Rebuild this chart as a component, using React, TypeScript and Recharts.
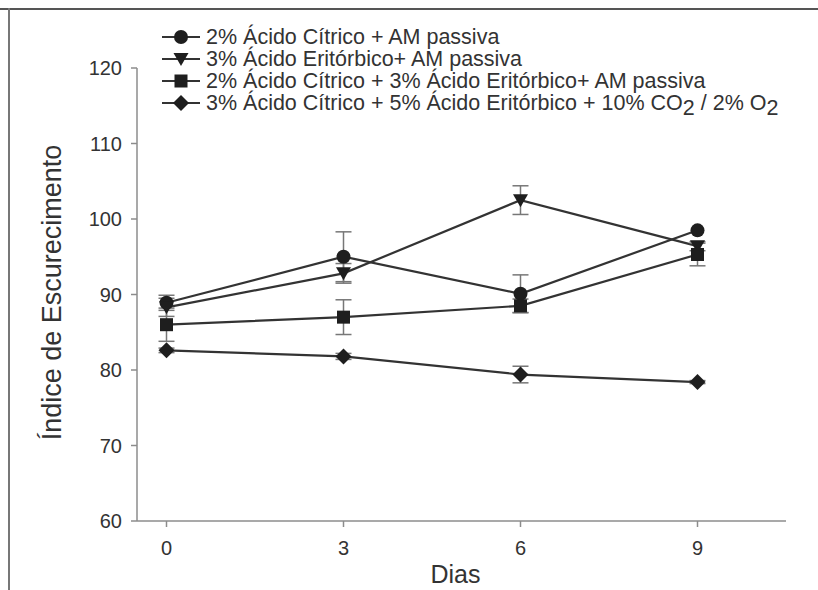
import React from "react";
import {
    LineChart,
    Line,
    XAxis,
    YAxis,
    ErrorBar,
    Label,
} from "recharts";

const days = [0, 3, 6, 9];
const citrico = [88.9, 95.0, 90.1, 98.5];
const citricoErr = [1.0, 3.3, 2.5, 0];
const eritorbico = [88.3, 92.8, 102.5, 96.4];
const eritorbicoErr = [1.2, 1.3, 1.9, 0.6];
const misto = [86.0, 87.0, 88.5, 95.3];
const mistoErr = [2.2, 2.3, 0.9, 1.5];
const atmosfera = [82.6, 81.8, 79.4, 78.4];
const atmosferaErr = [0.3, 0.4, 1.1, 0.2];
const yTicks = [60, 70, 80, 90, 100, 110, 120];

const data = days.map((d, i) => ({
    day: d,
    citrico: citrico[i],
    citricoErr: citricoErr[i],
    eritorbico: eritorbico[i],
    eritorbicoErr: eritorbicoErr[i],
    misto: misto[i],
    mistoErr: mistoErr[i],
    atmosfera: atmosfera[i],
    atmosferaErr: atmosferaErr[i],
}));

const FONT = "'Liberation Sans', Arial, sans-serif";
const LINE = "#333";
const AXIS = "#8c8c8c";

type Shape = "circle" | "triangle" | "square" | "diamond";

function Marker({ shape, cx, cy }: { shape: Shape; cx: number; cy: number }) {
    const fill = "#1e1e1e";
    if (shape === "circle") return <circle cx={cx} cy={cy} r={7} fill={fill} />;
    if (shape === "square")
        return <rect x={cx - 6.5} y={cy - 6.5} width={13} height={13} fill={fill} />;
    if (shape === "triangle")
        return (
            <path
                d={`M${cx - 7.5},${cy - 6} L${cx + 7.5},${cy - 6} L${cx},${cy + 7} Z`}
                fill={fill}
            />
        );
    return (
        <path
            d={`M${cx},${cy - 8} L${cx + 8},${cy} L${cx},${cy + 8} L${cx - 8},${cy} Z`}
            fill={fill}
        />
    );
}

const dotFor = (shape: Shape) => (p: any) =>
    <Marker key={`${shape}-${p.index}`} shape={shape} cx={p.cx} cy={p.cy} />;

const sub = (t: string) => (
    <span style={{ position: "relative", top: 5 }}>{t}</span>
);

const legendRows: { shape: Shape; label: React.ReactNode }[] = [
    { shape: "circle", label: "2% Ácido Cítrico + AM passiva" },
    { shape: "triangle", label: "3% Ácido Eritórbico+ AM passiva" },
    { shape: "square", label: "2% Ácido Cítrico + 3% Ácido Eritórbico+ AM passiva" },
    {
        shape: "diamond",
        label: (
            <>
                3% Ácido Cítrico + 5% Ácido Eritórbico + 10% CO{sub("2")} / 2% O{sub("2")}
            </>
        ),
    },
];

function LegendBox() {
    return (
        <div
            style={{
                position: "absolute",
                left: 160,
                top: 26,
                fontFamily: FONT,
                fontSize: 21.5,
                color: "#333",
            }}
        >
            {legendRows.map((r, i) => (
                <div
                    key={i}
                    style={{ display: "flex", alignItems: "center", height: 22, whiteSpace: "nowrap" }}
                >
                    <svg width={46} height={22}>
                        <line x1={2} y1={11} x2={40} y2={11} stroke={LINE} strokeWidth={2.2} />
                        <Marker shape={r.shape} cx={21} cy={11} />
                    </svg>
                    <span>{r.label}</span>
                </div>
            ))}
        </div>
    );
}

export default function App() {
    return (
        <div
            style={{
                position: "fixed",
                left: 0,
                top: 0,
                width: 818,
                height: 590,
                background: "#fff",
                fontFamily: FONT,
            }}
        >
            <div style={{ position: "absolute", left: 0, top: 8, width: 818, height: 2, background: "#555" }} />
            <div style={{ position: "absolute", left: 8, top: 8, width: 2, height: 582, background: "#777" }} />
            <LineChart
                width={818}
                height={590}
                data={data}
                margin={{ top: 68, right: 32, left: 57, bottom: 9 }}
            >
                <XAxis
                    dataKey="day"
                    type="number"
                    domain={[-0.5, 10.5]}
                    ticks={days}
                    height={60}
                    stroke={AXIS}
                    strokeWidth={1.5}
                    tickSize={6}
                    tickMargin={14}
                    tick={{ fill: "#333", fontSize: 20, fontFamily: FONT }}
                >
                    <Label
                        content={({ viewBox }: any) => (
                            <text
                                x={viewBox.x + viewBox.width / 2 - 6}
                                y={viewBox.y + 53}
                                textAnchor="middle"
                                dominantBaseline="central"
                                fontSize={25}
                                fontFamily={FONT}
                                fill="#333"
                            >
                                Dias
                            </text>
                        )}
                    />
                </XAxis>
                <YAxis
                    type="number"
                    domain={[60, 120]}
                    ticks={yTicks}
                    width={80}
                    stroke={AXIS}
                    strokeWidth={1.5}
                    tickSize={6}
                    tickMargin={9}
                    tick={{ fill: "#333", fontSize: 20, fontFamily: FONT }}
                >
                    <Label
                        content={({ viewBox }: any) => {
                            const x = viewBox.x - 5;
                            const y = viewBox.y + viewBox.height / 2 - 2;
                            return (
                                <text
                                    x={x}
                                    y={y}
                                    transform={`rotate(-90, ${x}, ${y})`}
                                    textAnchor="middle"
                                    dominantBaseline="central"
                                    fontSize={27}
                                    fontFamily={FONT}
                                    fill="#333"
                                >
                                    Índice de Escurecimento
                                </text>
                            );
                        }}
                    />
                </YAxis>
                <Line dataKey="citrico" stroke={LINE} strokeWidth={2.2} dot={dotFor("circle")} isAnimationActive={false}>
                    <ErrorBar dataKey="citricoErr" width={8} stroke="#777" strokeWidth={1.5} direction="y" />
                </Line>
                <Line dataKey="eritorbico" stroke={LINE} strokeWidth={2.2} dot={dotFor("triangle")} isAnimationActive={false}>
                    <ErrorBar dataKey="eritorbicoErr" width={8} stroke="#777" strokeWidth={1.5} direction="y" />
                </Line>
                <Line dataKey="misto" stroke={LINE} strokeWidth={2.2} dot={dotFor("square")} isAnimationActive={false}>
                    <ErrorBar dataKey="mistoErr" width={8} stroke="#777" strokeWidth={1.5} direction="y" />
                </Line>
                <Line dataKey="atmosfera" stroke={LINE} strokeWidth={2.2} dot={dotFor("diamond")} isAnimationActive={false}>
                    <ErrorBar dataKey="atmosferaErr" width={8} stroke="#777" strokeWidth={1.5} direction="y" />
                </Line>
            </LineChart>
            <LegendBox />
        </div>
    );
}
